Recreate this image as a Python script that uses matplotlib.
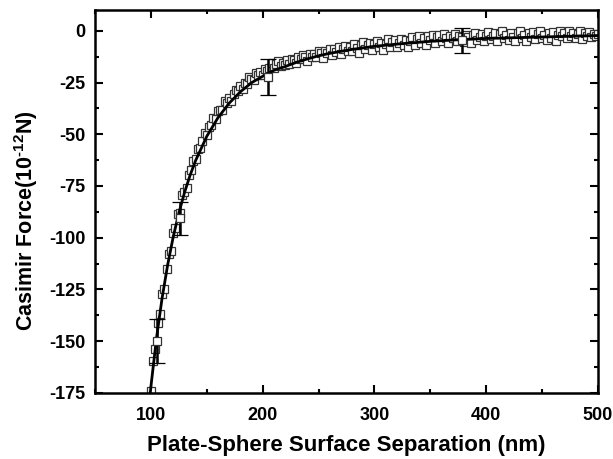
import matplotlib
matplotlib.use('Agg')
import matplotlib.pyplot as plt
from matplotlib.ticker import MultipleLocator

plt.rcParams['font.family'] = ['Liberation Sans', 'DejaVu Sans']
plt.rcParams['font.weight'] = 'bold'
plt.rcParams['axes.unicode_minus'] = False
plt.rcParams['mathtext.fontset'] = 'custom'
plt.rcParams['mathtext.rm'] = 'Liberation Sans:bold'
plt.rcParams['mathtext.it'] = 'Liberation Sans:bold'
plt.rcParams['mathtext.bf'] = 'Liberation Sans:bold'

# measured force (squares), separation in nm, force in 1e-12 N
separation = [
    98, 100, 102, 104, 106, 108, 110, 112, 114, 116,
    118, 120, 122, 124, 126, 128, 130, 132, 134, 136,
    138, 140, 142, 144, 146, 148, 150, 152, 154, 156,
    158, 160, 162, 164, 166, 168, 170, 172, 174, 176,
    178, 180, 182, 184, 186, 188, 190, 192, 194, 196,
    198, 200, 202, 204, 206, 208, 210, 212, 214, 216,
    218, 220, 222, 224, 226, 228, 230, 232, 234, 236,
    238, 240, 242, 244, 246, 248, 250, 252, 254, 256,
    258, 260, 262, 264, 266, 268, 270, 272, 274, 276,
    278, 280, 282, 284, 286, 288, 290, 292, 294, 296,
    298, 300, 302, 304, 306, 308, 310, 312, 314, 316,
    318, 320, 322, 324, 326, 328, 330, 332, 334, 336,
    338, 340, 342, 344, 346, 348, 350, 352, 354, 356,
    358, 360, 362, 364, 366, 368, 370, 372, 374, 376,
    378, 380, 382, 384, 386, 388, 390, 392, 394, 396,
    398, 400, 402, 404, 406, 408, 410, 412, 414, 416,
    418, 420, 422, 424, 426, 428, 430, 432, 434, 436,
    438, 440, 442, 444, 446, 448, 450, 452, 454, 456,
    458, 460, 462, 464, 466, 468, 470, 472, 474, 476,
    478, 480, 482, 484, 486, 488, 490, 492, 494, 496,
    498, 500,
]
force = [
    -181.2, -174.0, -159.6, -153.9, -141.4, -137.0, -127.2, -124.9, -115.1, -107.7,
    -106.2, -97.5, -95.2, -88.7, -88.0, -79.5, -77.8, -75.8, -69.5, -67.4,
    -62.9, -62.2, -57.1, -56.6, -53.3, -49.6, -50.5, -46.5, -45.6, -42.3,
    -42.6, -39.0, -38.5, -38.5, -34.1, -34.8, -32.5, -33.8, -30.6, -28.5,
    -29.0, -26.5, -28.0, -25.1, -25.7, -22.4, -23.1, -23.8, -20.6, -21.3,
    -20.0, -21.5, -18.3, -19.2, -18.1, -15.6, -18.1, -16.1, -14.7, -16.8,
    -15.5, -16.3, -13.9, -16.0, -13.6, -14.2, -15.8, -12.9, -13.6, -11.7,
    -12.9, -14.6, -11.3, -12.5, -11.2, -12.9, -9.6, -10.9, -13.1, -9.9,
    -10.6, -8.9, -11.7, -9.0, -10.3, -7.6, -11.4, -8.7, -7.5, -9.8,
    -7.7, -10.0, -6.3, -8.2, -10.5, -6.9, -5.2, -8.6, -6.9, -5.8,
    -9.1, -6.5, -4.9, -7.8, -5.7, -9.1, -6.5, -3.9, -7.8, -5.2,
    -4.6, -8.0, -5.9, -3.8, -6.7, -4.6, -8.0, -4.9, -2.8, -6.7,
    -4.1, -2.5, -5.9, -3.3, -6.7, -2.6, -4.5, -1.9, -5.8, -3.2,
    -2.2, -5.1, -1.5, -3.5, -5.9, -2.3, -3.7, -1.7, -5.1, -2.5,
    -2.9, -5.4, -1.8, -3.2, -5.7, -2.1, -1.0, -4.5, -2.9, -1.4,
    -4.9, -2.3, -0.8, -4.2, -2.7, -1.1, -5.1, -1.5, 0.0, -3.5,
    -1.9, -4.4, -0.9, -2.8, -4.8, -1.3, -0.2, -3.7, -2.2, -5.1,
    -1.1, -3.1, -0.6, -4.0, -1.5, 0.0, -3.4, -1.9, -4.4, -0.9,
    -3.3, -0.8, -4.8, -1.8, -0.2, -2.7, -1.2, -3.7, -0.1, -2.6,
    -1.1, -3.6, -1.6, 0.0, -4.0, -1.0, -2.5, -0.5, -2.9, -1.4,
    -2.6, -1.5,
]

# theoretical curve
theory_sep = [97, 100, 105, 110, 115, 120, 125, 130, 135, 140, 150, 160, 170,
              180, 190, 200, 210, 220, 230, 240, 250, 260, 280, 300, 325, 350,
              375, 400, 450, 500]
theory_force = [-188.4, -172.0, -148.6, -129.2, -113.1, -99.5, -88.1, -78.3,
                -69.9, -62.7, -51.0, -42.0, -35.0, -29.5, -25.1, -22.0, -19.1,
                -17.3, -15.3, -13.6, -12.1, -10.9, -9.0, -7.5, -6.2, -5.1,
                -4.3, -3.7, -3.0, -2.3]

# representative error bars
err_sep = [105.5, 126, 205, 378]
err_force = [-150, -90.5, -22.5, -4.5]
err_size = [10.5, 8, 8.7, 6]

fig = plt.figure(figsize=(6.13, 4.59), dpi=100)
ax = fig.add_axes([0.155, 0.144, 0.8205, 0.834])

ax.plot(separation, force, 's', ms=5.8, mfc='white', mec='#333333', mew=0.9,
        zorder=2)
ax.plot(theory_sep, theory_force, '-', color='black', lw=2.0, zorder=3)
ax.errorbar(err_sep, err_force, yerr=err_size, fmt='s', ms=5.8, mfc='white',
            mec='#333333', mew=0.9, ecolor='black', elinewidth=1.8,
            capsize=6, capthick=2.0, zorder=4)

ax.set_xlim(50, 500)
ax.set_ylim(-175, 10)
ax.set_xticks([100, 200, 300, 400, 500])
ax.xaxis.set_minor_locator(MultipleLocator(50))
ax.set_yticks([0, -25, -50, -75, -100, -125, -150, -175])
ax.yaxis.set_minor_locator(MultipleLocator(12.5))

ax.tick_params(which='both', direction='in', top=True, right=True,
               labelsize=13, width=1.5)
ax.tick_params(which='major', length=6)
ax.tick_params(which='minor', length=3)
ax.tick_params(axis='x', pad=10)
ax.tick_params(axis='y', pad=7)
for s in ax.spines.values():
    s.set_linewidth(1.8)

ax.set_xlabel('Plate-Sphere Surface Separation (nm)', fontsize=16,
              fontweight='bold', labelpad=8)
ax.set_ylabel(r'Casimir Force(10$^{\text{-12}}$N)', fontsize=15.5,
              fontweight='bold')
ax.yaxis.set_label_coords(-0.11, 0.45)

fig.savefig('out.png', dpi=100)
